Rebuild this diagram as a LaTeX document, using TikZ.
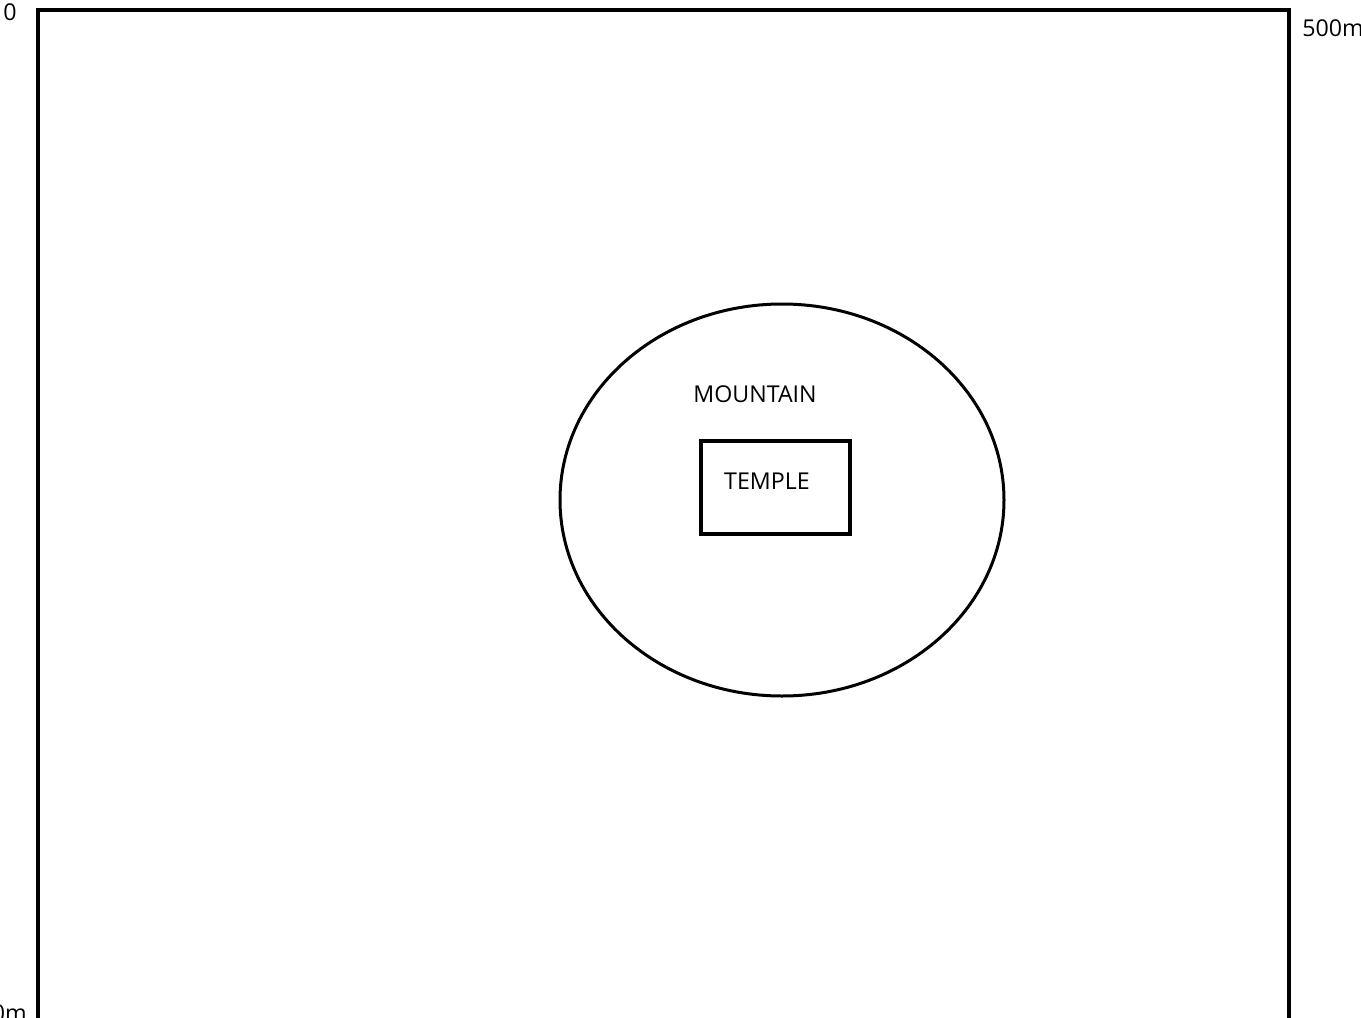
\documentclass[tikz,border=0pt]{standalone}
\usepackage{fontspec}
\setmainfont{Open Sans}
\begin{document}
\begin{tikzpicture}[x=0.5pt,y=-0.5pt,
  lbl/.style={inner sep=0pt,font=\fontsize{11.6pt}{13pt}\selectfont},
  thick line/.style={draw=black,line width=2pt}]
\useasboundingbox[fill=white] (0,0) rectangle (1361,1018);
\draw[thick line] (38,1040) -- (38,10) -- (1289,10) -- (1289,1040);
\draw[draw=black,line width=1.5pt] (782,500) ellipse [x radius=222, y radius=196];
\node[thick line,minimum width=74.5pt,minimum height=46.5pt,inner sep=0pt] (temple) at (775.5,487.5) {};
\node[lbl] (tlabel) at (767,481) {TEMPLE};
\node[lbl] (mlabel) at (755,394) {MOUNTAIN};
\node[lbl,anchor=center] (zero) at (10,12) {0};
\node[lbl,anchor=west] (top) at (1302,28) {500m};
\node[lbl,anchor=east] (bottom) at (27,1013) {500m};
\end{tikzpicture}
\end{document}
